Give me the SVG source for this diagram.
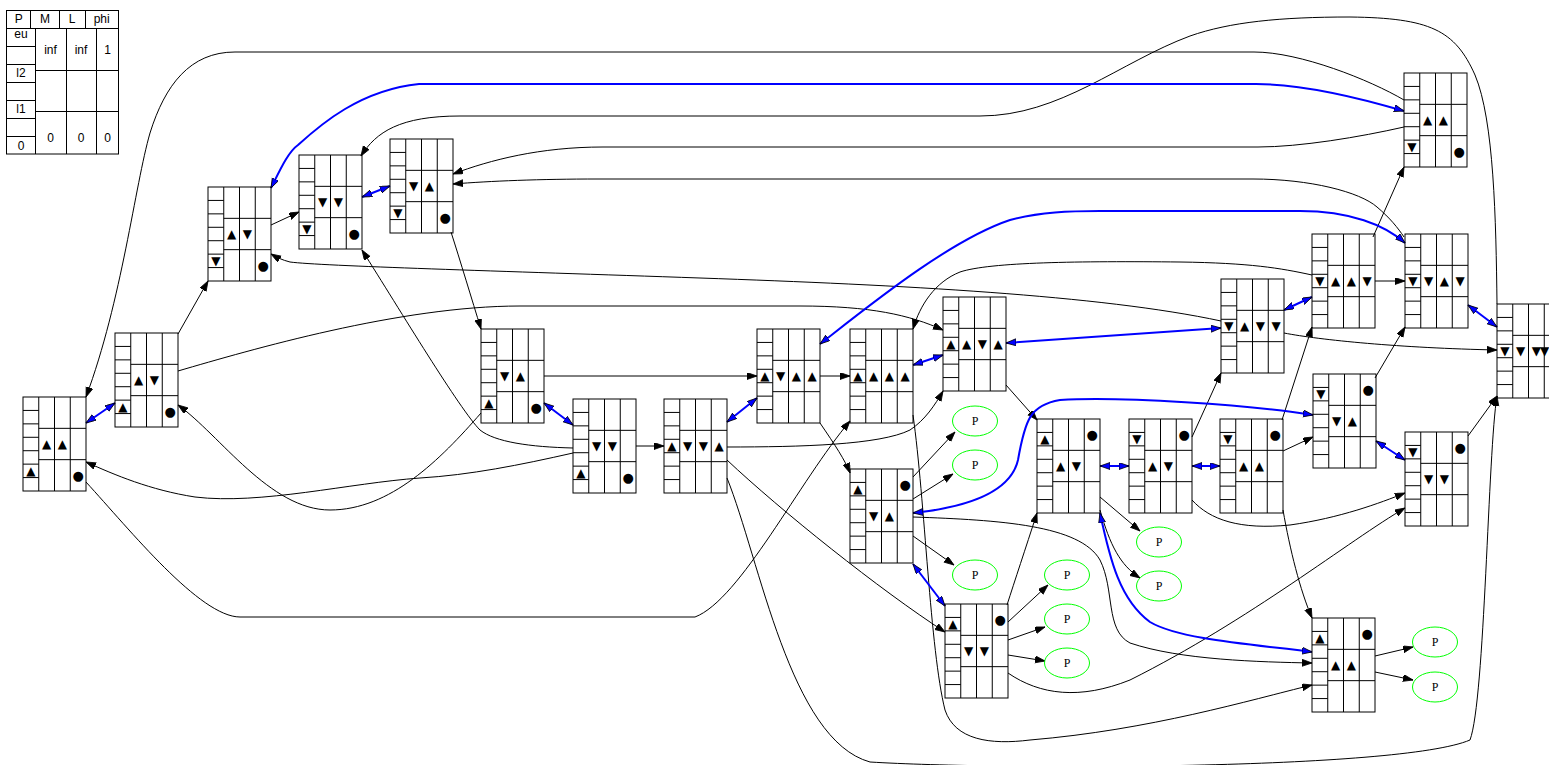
<svg xmlns="http://www.w3.org/2000/svg" xmlns:xlink="http://www.w3.org/1999/xlink" width="1549" height="765" viewBox="0 0 1549 765">
<style>
  .gl { fill: none; stroke: #000; stroke-width: 1; }
  .s { font-family: "DejaVu Sans", sans-serif; font-size: 12px; text-anchor: middle; fill: #000; }
  .d { font-family: "DejaVu Sans", sans-serif; font-size: 13px; text-anchor: middle; fill: #000; }
  .lt { font-family: "Liberation Sans", Arial, sans-serif; font-size: 12px; text-anchor: middle; fill: #000; }
  .pe { fill: none; stroke: #00ff00; stroke-width: 1; }
  .pt { font-family: "Liberation Serif", "Times New Roman", serif; font-size: 12px; text-anchor: middle; fill: #000; }
  .e { fill: none; stroke: #000; stroke-width: 1; marker-end: url(#ah); }
  .b { fill: none; stroke: #0000ff; stroke-width: 2; marker-start: url(#bh); marker-end: url(#bh); }
</style>
<defs>
  <marker id="ah" markerUnits="userSpaceOnUse" markerWidth="11" markerHeight="8" refX="10" refY="3.5" orient="auto">
    <path d="M0,0 L10,3.5 L0,7 z" fill="#000" stroke="#000" stroke-width="0.8"/>
  </marker>
  <marker id="bh" markerUnits="userSpaceOnUse" markerWidth="11" markerHeight="8" refX="10" refY="3.5" orient="auto-start-reverse">
    <path d="M0,0 L10,3.5 L0,7 z" fill="#0000ff" stroke="#000" stroke-width="0.8"/>
  </marker>
  <!-- record cell grid: 7-row port column plus 3x3 body -->
  <g id="grid" class="gl">
    <rect x="0" y="0" width="63" height="94"/>
    <path d="M15.75,0 V94 M31.5,0 V94 M47.25,0 V94 M15.75,31.33 H63 M15.75,62.67 H63 M0,13.43 H15.75 M0,26.86 H15.75 M0,40.29 H15.75 M0,53.71 H15.75 M0,67.14 H15.75 M0,80.57 H15.75"/>
  </g>
</defs>
<rect width="1549" height="765" fill="#fff"/>

<!-- legend table -->
<g id="legend">
  <rect class="gl" x="6.5" y="10.5" width="112" height="143.5"/>
  <path class="gl" d="M6.5,28.5 H118.5 M30.5,10.5 V28.5 M59.5,10.5 V28.5 M85.5,10.5 V28.5 M35.5,28.5 V154 M66.5,28.5 V154 M96.5,28.5 V154 M35.5,70.5 H118.5 M35.5,111.5 H118.5 M6.5,46.5 H35.5 M6.5,64.5 H35.5 M6.5,82.5 H35.5 M6.5,100.5 H35.5 M6.5,118.5 H35.5 M6.5,136.5 H35.5"/>
  <text class="lt" x="18.7" y="23">P</text>
  <text class="lt" x="45" y="23">M</text>
  <text class="lt" x="72" y="23">L</text>
  <text class="lt" x="101.7" y="23">phi</text>
  <text class="lt" x="21" y="38">eu</text>
  <text class="lt" x="21" y="77">l2</text>
  <text class="lt" x="21" y="113">l1</text>
  <text class="lt" x="21" y="150">0</text>
  <text class="lt" x="50.5" y="54">inf</text>
  <text class="lt" x="81" y="54">inf</text>
  <text class="lt" x="107.5" y="54">1</text>
  <text class="lt" x="50.5" y="141.5">0</text>
  <text class="lt" x="81" y="141.5">0</text>
  <text class="lt" x="107.5" y="141.5">0</text>
</g>

<!-- connectors -->
<g id="edges">
  <path class="e" d="M1404,100 C1370,80 1300,52 1254,52 L235,52 C190,52 165,85 150,133 C135,185 122,300 86,397"/>
  <path class="e" d="M1497,304 C1496,220 1494,120 1475,75 C1455,30 1430,18 1350,17 C1280,17 1230,22 1190,36 C1120,62 1060,116 980,116 L460,116 C400,116 376,132 361,156"/>
  <path class="e" d="M1404,127 C1360,137 1300,147 1258,147 L603,147 C540,147 490,160 453,174"/>
  <path class="e" d="M1404,237 C1398,228 1390,218 1377,207 C1360,192 1310,179 1253,179 L598,179 C540,179 490,181 453,184"/>
  <path class="e" d="M1373,237 L1404,167"/>
  <path class="e" d="M1312,275 C1280,268 1250,263 1180,262 C1080,261 990,262 960,272 C935,282 920,305 913,329"/>
  <path class="e" d="M1221,321 C1100,295 900,285 700,278 C500,271 320,266 290,262 C282,260 276,257 271,254"/>
  <path class="e" d="M178,334 L208,281"/>
  <path class="e" d="M178,371 C250,350 400,306 520,306 L800,306 C870,306 910,315 943,330"/>
  <path class="e" d="M481,413 C440,460 390,510 330,510 C270,510 220,435 178,405"/>
  <path class="e" d="M573,453 C520,465 470,475 420,478 C350,483 260,505 195,497 C150,490 115,475 86,462"/>
  <path class="e" d="M573,448 C530,447 495,442 480,430 C460,410 400,310 362,250"/>
  <path class="e" d="M451,232 C460,260 472,300 481,329"/>
  <path class="e" d="M271,225 L299,212"/>
  <path class="e" d="M544,376 L757,376"/>
  <path class="e" d="M636,446 L664,446"/>
  <path class="e" d="M820,376 L850,376"/>
  <path class="e" d="M727,447 C800,447 880,445 910,430 C925,420 935,405 943,391"/>
  <path class="e" d="M727,460 C780,510 880,590 945,632"/>
  <path class="e" d="M727,478 C760,560 790,740 870,762 C1000,770 1400,770 1470,740 C1485,700 1488,450 1497,396"/>
  <path class="e" d="M820,423 C835,445 845,460 850,473"/>
  <path class="e" d="M913,415 C925,500 930,650 945,710 C955,740 990,745 1030,740 C1150,730 1250,700 1312,685"/>
  <path class="e" d="M1006,385 L1037,420"/>
  <path class="e" d="M913,477 L955,432"/>
  <path class="e" d="M913,499 L953,474"/>
  <path class="e" d="M913,517 C1000,520 1080,525 1100,560 C1115,590 1105,630 1130,643 C1180,660 1260,662 1312,663"/>
  <path class="e" d="M913,536 L954,565"/>
  <path class="e" d="M1007,605 C1015,580 1025,550 1037,513"/>
  <path class="e" d="M1008,622 L1048,585"/>
  <path class="e" d="M1008,640 L1045,627"/>
  <path class="e" d="M1008,655 L1045,661"/>
  <path class="e" d="M1008,673 C1040,695 1080,700 1130,680 C1250,620 1350,540 1405,508"/>
  <path class="e" d="M1100,497 L1140,531"/>
  <path class="e" d="M1100,510 C1110,545 1120,565 1140,578"/>
  <path class="e" d="M1192,437 L1221,373"/>
  <path class="e" d="M1192,500 C1210,520 1240,530 1290,525 C1340,518 1380,503 1405,493"/>
  <path class="e" d="M1282,420 L1312,327"/>
  <path class="e" d="M1283,451 L1313,437"/>
  <path class="e" d="M1283,510 C1290,550 1300,590 1312,618"/>
  <path class="e" d="M1375,281 L1405,281"/>
  <path class="e" d="M1284,333 C1320,340 1400,348 1497,350"/>
  <path class="e" d="M1375,378 L1405,327"/>
  <path class="e" d="M1468,436 L1497,396"/>
  <path class="e" d="M1375,656 L1413,647"/>
  <path class="e" d="M1375,672 L1413,680"/>
  <path class="e" d="M86,482 C130,530 200,617 240,617 L695,617 C740,600 800,480 850,421"/>

  <path class="b" d="M86,423 L115,403"/>
  <path class="b" d="M271,188 C280,170 288,152 298,145 C320,125 360,90 419,84 L1256,84 C1300,84 1360,98 1404,111"/>
  <path class="b" d="M362,197 L390,186"/>
  <path class="b" d="M544,403 L573,425"/>
  <path class="b" d="M727,422 L757,398"/>
  <path class="b" d="M820,344 C870,305 950,240 1010,220 C1040,212 1070,211 1100,211 L1300,211 C1350,211 1385,225 1405,243"/>
  <path class="b" d="M913,365 L943,355"/>
  <path class="b" d="M1006,343 L1221,328"/>
  <path class="b" d="M913,513 C960,508 1010,495 1018,460 C1025,420 1030,405 1060,400 C1120,396 1250,405 1313,415"/>
  <path class="b" d="M1100,466 L1129,466"/>
  <path class="b" d="M1192,466 L1220,466"/>
  <path class="b" d="M1100,513 C1110,560 1120,600 1150,622 C1180,640 1260,645 1312,652"/>
  <path class="b" d="M1284,310 L1312,297"/>
  <path class="b" d="M1468,305 L1497,327"/>
  <path class="b" d="M1376,441 L1405,460"/>
  <path class="b" d="M913,564 L945,606"/>
</g>

<!-- record nodes -->
<g id="n1" transform="translate(23,397)"><use xlink:href="#grid"/><text class="s" x="7.9" y="78">▲</text><text class="s" x="23.6" y="51">▲</text><text class="s" x="39.4" y="51">▲</text><text class="d" x="55.1" y="83">●</text></g>
<g id="n2" transform="translate(115,333)"><use xlink:href="#grid"/><text class="s" x="7.9" y="78">▲</text><text class="s" x="23.6" y="51">▲</text><text class="s" x="39.4" y="51">▼</text><text class="d" x="55.1" y="83">●</text></g>
<g id="n3" transform="translate(208,187)"><use xlink:href="#grid"/><text class="s" x="7.9" y="78">▼</text><text class="s" x="23.6" y="51">▲</text><text class="s" x="39.4" y="51">▼</text><text class="d" x="55.1" y="83">●</text></g>
<g id="n4" transform="translate(299,155)"><use xlink:href="#grid"/><text class="s" x="7.9" y="78">▼</text><text class="s" x="23.6" y="51">▼</text><text class="s" x="39.4" y="51">▼</text><text class="d" x="55.1" y="83">●</text></g>
<g id="n5" transform="translate(390,139)"><use xlink:href="#grid"/><text class="s" x="7.9" y="78">▼</text><text class="s" x="23.6" y="51">▼</text><text class="s" x="39.4" y="51">▲</text><text class="d" x="55.1" y="83">●</text></g>
<g id="n6" transform="translate(481,329)"><use xlink:href="#grid"/><text class="s" x="7.9" y="78">▲</text><text class="s" x="23.6" y="51">▼</text><text class="s" x="39.4" y="51">▲</text><text class="d" x="55.1" y="83">●</text></g>
<g id="n7" transform="translate(573,399)"><use xlink:href="#grid"/><text class="s" x="7.9" y="78">▲</text><text class="s" x="23.6" y="51">▼</text><text class="s" x="39.4" y="51">▼</text><text class="d" x="55.1" y="83">●</text></g>
<g id="n8" transform="translate(664,399)"><use xlink:href="#grid"/><text class="s" x="7.9" y="51">▲</text><text class="s" x="23.6" y="51">▼</text><text class="s" x="39.4" y="51">▼</text><text class="s" x="55.1" y="51">▲</text></g>
<g id="n9" transform="translate(757,329)"><use xlink:href="#grid"/><text class="s" x="7.9" y="51">▲</text><text class="s" x="23.6" y="51">▼</text><text class="s" x="39.4" y="51">▲</text><text class="s" x="55.1" y="51">▲</text></g>
<g id="n10" transform="translate(850,329)"><use xlink:href="#grid"/><text class="s" x="7.9" y="51">▲</text><text class="s" x="23.6" y="51">▲</text><text class="s" x="39.4" y="51">▲</text><text class="s" x="55.1" y="51">▲</text></g>
<g id="n11" transform="translate(943,297)"><use xlink:href="#grid"/><text class="s" x="7.9" y="51">▲</text><text class="s" x="23.6" y="51">▲</text><text class="s" x="39.4" y="51">▼</text><text class="s" x="55.1" y="51">▲</text></g>
<g id="n12" transform="translate(850,469)"><use xlink:href="#grid"/><text class="s" x="7.9" y="24">▲</text><text class="d" x="55.1" y="20">●</text><text class="s" x="23.6" y="51">▼</text><text class="s" x="39.4" y="51">▲</text></g>
<g id="n13" transform="translate(945,604)"><use xlink:href="#grid"/><text class="s" x="7.9" y="24">▲</text><text class="d" x="55.1" y="20">●</text><text class="s" x="23.6" y="51">▼</text><text class="s" x="39.4" y="51">▼</text></g>
<g id="n14" transform="translate(1037,419)"><use xlink:href="#grid"/><text class="s" x="7.9" y="24">▲</text><text class="d" x="55.1" y="20">●</text><text class="s" x="23.6" y="51">▲</text><text class="s" x="39.4" y="51">▼</text></g>
<g id="n15" transform="translate(1129,419)"><use xlink:href="#grid"/><text class="s" x="7.9" y="24">▼</text><text class="d" x="55.1" y="20">●</text><text class="s" x="23.6" y="51">▲</text><text class="s" x="39.4" y="51">▼</text></g>
<g id="n16" transform="translate(1220,419)"><use xlink:href="#grid"/><text class="s" x="7.9" y="24">▼</text><text class="d" x="55.1" y="20">●</text><text class="s" x="23.6" y="51">▲</text><text class="s" x="39.4" y="51">▲</text></g>
<g id="n17" transform="translate(1404,73)"><use xlink:href="#grid"/><text class="s" x="7.9" y="78">▼</text><text class="s" x="23.6" y="51">▲</text><text class="s" x="39.4" y="51">▲</text><text class="d" x="55.1" y="83">●</text></g>
<g id="n18" transform="translate(1405,234)"><use xlink:href="#grid"/><text class="s" x="7.9" y="51">▼</text><text class="s" x="23.6" y="51">▼</text><text class="s" x="39.4" y="51">▲</text><text class="s" x="55.1" y="51">▼</text></g>
<g id="n19" transform="translate(1312,234)"><use xlink:href="#grid"/><text class="s" x="7.9" y="51">▼</text><text class="s" x="23.6" y="51">▲</text><text class="s" x="39.4" y="51">▲</text><text class="s" x="55.1" y="51">▼</text></g>
<g id="n20" transform="translate(1221,279)"><use xlink:href="#grid"/><text class="s" x="7.9" y="51">▼</text><text class="s" x="23.6" y="51">▲</text><text class="s" x="39.4" y="51">▼</text><text class="s" x="55.1" y="51">▼</text></g>
<g id="n21" transform="translate(1497,304)"><use xlink:href="#grid"/><text class="s" x="7.9" y="51">▼</text><text class="s" x="23.6" y="51">▼</text><text class="s" x="39.4" y="51">▼</text><text class="s" x="47.5" y="51" font-size="10">▼</text></g>
<g id="n22" transform="translate(1313,374)"><use xlink:href="#grid"/><text class="s" x="7.9" y="24">▼</text><text class="d" x="55.1" y="20">●</text><text class="s" x="23.6" y="51">▼</text><text class="s" x="39.4" y="51">▲</text></g>
<g id="n23" transform="translate(1405,432)"><use xlink:href="#grid"/><text class="s" x="7.9" y="24">▼</text><text class="d" x="55.1" y="20">●</text><text class="s" x="23.6" y="51">▼</text><text class="s" x="39.4" y="51">▼</text></g>
<g id="n24" transform="translate(1312,618)"><use xlink:href="#grid"/><text class="s" x="7.9" y="24">▲</text><text class="d" x="55.1" y="20">●</text><text class="s" x="23.6" y="51">▲</text><text class="s" x="39.4" y="51">▲</text></g>

<!-- P leaves -->
<g id="p1"><ellipse class="pe" cx="975" cy="421" rx="22.5" ry="15"/><text class="pt" x="975" y="425">P</text></g>
<g id="p2"><ellipse class="pe" cx="975" cy="465" rx="22.5" ry="15"/><text class="pt" x="975" y="469">P</text></g>
<g id="p3"><ellipse class="pe" cx="975" cy="575" rx="22.5" ry="15"/><text class="pt" x="975" y="579">P</text></g>
<g id="p4"><ellipse class="pe" cx="1067" cy="575" rx="22.5" ry="15"/><text class="pt" x="1067" y="579">P</text></g>
<g id="p5"><ellipse class="pe" cx="1067" cy="619" rx="22.5" ry="15"/><text class="pt" x="1067" y="623">P</text></g>
<g id="p6"><ellipse class="pe" cx="1067" cy="663" rx="22.5" ry="15"/><text class="pt" x="1067" y="667">P</text></g>
<g id="p7"><ellipse class="pe" cx="1159" cy="542" rx="22.5" ry="15"/><text class="pt" x="1159" y="546">P</text></g>
<g id="p8"><ellipse class="pe" cx="1159" cy="586" rx="22.5" ry="15"/><text class="pt" x="1159" y="590">P</text></g>
<g id="p9"><ellipse class="pe" cx="1435" cy="642" rx="22.5" ry="15"/><text class="pt" x="1435" y="646">P</text></g>
<g id="p10"><ellipse class="pe" cx="1435" cy="687" rx="22.5" ry="15"/><text class="pt" x="1435" y="691">P</text></g>
</svg>
